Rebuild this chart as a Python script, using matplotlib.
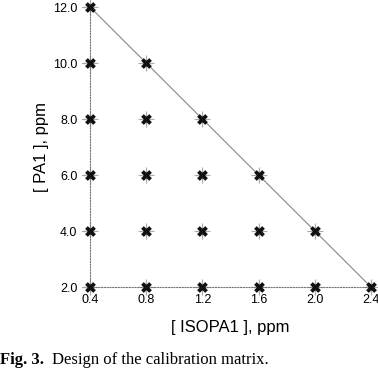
import matplotlib
matplotlib.use("Agg")
import matplotlib.pyplot as plt

x_vals = [0.4, 0.4, 0.4, 0.4, 0.4, 0.4,
          0.8, 0.8, 0.8, 0.8, 0.8,
          1.2, 1.2, 1.2, 1.2,
          1.6, 1.6, 1.6,
          2.0, 2.0,
          2.4]
y_vals = [2.0, 4.0, 6.0, 8.0, 10.0, 12.0,
          2.0, 4.0, 6.0, 8.0, 10.0,
          2.0, 4.0, 6.0, 8.0,
          2.0, 4.0, 6.0,
          2.0, 4.0,
          2.0]
line_x = [0.4, 2.4]
line_y = [12.0, 2.0]
x_ticks = [0.4, 0.8, 1.2, 1.6, 2.0, 2.4]
y_ticks = [2.0, 4.0, 6.0, 8.0, 10.0, 12.0]

plt.rcParams['font.family'] = ['Liberation Sans', 'DejaVu Sans']

fig = plt.figure(figsize=(3.78, 3.72), dpi=100)
ax = fig.add_axes([90/378, 1-287/372, (371-90)/378, (287-7)/372])

ax.plot(line_x, line_y, color='#888888', lw=0.8, zorder=1, clip_on=False)
ax.scatter(x_vals, y_vals, marker='+', s=120, color='#aaaaaa', linewidths=0.8, zorder=2, clip_on=False)
ax.scatter(x_vals, y_vals, marker='X', s=60, color='#111111', linewidths=0, zorder=3, clip_on=False)

ax.set_xlim(0.4, 2.4)
ax.set_ylim(2.0, 12.0)
ax.set_xticks(x_ticks)
ax.set_xticklabels([f"{v:.1f}" for v in x_ticks])
ax.set_yticks(y_ticks)
ax.set_yticklabels([f"{v:.1f}" for v in y_ticks])

for s in ['top', 'right']:
    ax.spines[s].set_visible(False)
for s in ['left', 'bottom']:
    ax.spines[s].set_linestyle((0, (1, 1.5)))
    ax.spines[s].set_color('#777777')
    ax.spines[s].set_linewidth(0.8)

ax.tick_params(axis='y', length=6, width=0.8, color='#555555', labelsize=9, pad=3)
ax.tick_params(axis='x', length=0, labelsize=9, pad=5)

ax.set_xlabel("[ ISOPA1 ], ppm", fontsize=12, labelpad=10)
ax.set_ylabel("[ PA1 ], ppm", fontsize=12, labelpad=3)

fig.text(0.0, 1-360/372, "Fig. 3.", fontsize=12, family='Liberation Serif', weight='bold', va='center', ha='left')
fig.text(52/378, 1-360/372, "Design of the calibration matrix.", fontsize=12, family='Liberation Serif', va='center', ha='left')

fig.savefig("out.png", dpi=100)
